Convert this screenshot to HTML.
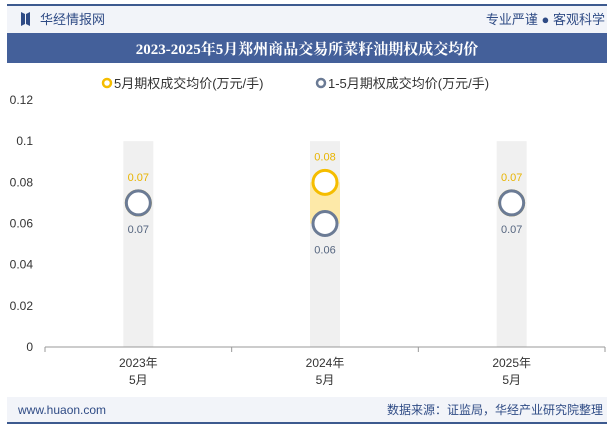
<!DOCTYPE html>
<html><head><meta charset="utf-8"><style>
body{margin:0;width:615px;height:427px;overflow:hidden;background:#fff;font-family:"Liberation Sans","Noto Sans CJK SC",sans-serif}
</style></head><body>
<svg width="615" height="427" xmlns="http://www.w3.org/2000/svg" style="font-family:'Liberation Sans','Noto Sans CJK SC',sans-serif">
<rect x="0" y="0" width="615" height="427" fill="#fff"/>
<rect x="7" y="4" width="600" height="2" fill="#3d5a8f"/>
<rect x="7" y="6" width="600" height="27" fill="#f2f4f9"/>
<path d="M21 12 L25 14 L25 24 L21 26 Z M26 14 L30 12 L30 26 L26 24Z" fill="#2f4b85"/>
<text x="40" y="24" font-size="13" fill="#2f4b85">华经情报网</text>
<text x="605" y="24" font-size="13" fill="#2f4b85" text-anchor="end">专业严谨 ● 客观科学</text>
<rect x="7" y="33" width="600" height="30" fill="#44609a"/>
<text x="307" y="54" font-size="15" font-weight="bold" fill="#fff" text-anchor="middle" font-family="'Liberation Serif','Noto Serif CJK SC',serif">2023-2025年5月郑州商品交易所菜籽油期权成交均价</text>
<g>
<circle cx="107" cy="83" r="4" fill="none" stroke="#f5bd00" stroke-width="2.5"/>
<text x="114" y="88" font-size="13" fill="#333">5月期权成交均价(万元/手)</text>
<circle cx="321" cy="83" r="4" fill="none" stroke="#6b7b95" stroke-width="2.5"/>
<text x="328" y="88" font-size="13" fill="#333">1-5月期权成交均价(万元/手)</text>
</g>
<g id="plot"></g>
<rect x="7" y="397" width="600" height="25" fill="#f2f4f9"/>
<rect x="7" y="422" width="600" height="2" fill="#3d5a8f"/>
<text x="18" y="414" font-size="12" fill="#2f4b85">www.huaon.com</text>
<text x="603" y="414" font-size="12" fill="#2f4b85" text-anchor="end">数据来源：证监局，华经产业研究院整理</text>
</svg>
<script>
const categories=["2023年|5月","2024年|5月","2025年|5月"];
const mayValues=[0.07,0.08,0.07];
const ytdValues=[0.07,0.06,0.07];
const yTicks=[0,0.02,0.04,0.06,0.08,0.1,0.12];
const yTickLabels=["0","0.02","0.04","0.06","0.08","0.1","0.12"];
const NS="http://www.w3.org/2000/svg";
const g=document.getElementById('plot');
const x0=45,x1=605,yb=347,yt=100,ymax=0.12;
const y=v=>yb-(v/ymax)*(yb-yt);
const bw=(x1-x0)/categories.length;
const xc=i=>x0+bw*(i+0.5);
function mk(t,a,txt){const e=document.createElementNS(NS,t);for(const k in a)e.setAttribute(k,a[k]);if(txt!=null)e.textContent=txt;g.appendChild(e);return e;}
yTicks.forEach((v,i)=>{
 const t=mk('text',{x:33,y:y(v)+4,'font-size':12,fill:'#333','text-anchor':'end'},yTickLabels[i]);
 
 
});
categories.forEach((c,i)=>{
 const bg=mk('rect',{x:xc(i)-15,y:y(0.1),width:30,height:yb-y(0.1),fill:'#f0f0f0'});
 
 
});
categories.forEach((c,i)=>{
 const a=mayValues[i],b=ytdValues[i];
 if(a!==b){const r=mk('rect',{x:xc(i)-15,y:y(Math.max(a,b)),width:30,height:Math.abs(y(a)-y(b)),fill:'#fde9a8'});
 
 }
});
const ax=mk('line',{x1:x0,x2:x1,y1:yb,y2:yb,stroke:'#999'});


for(let i=0;i<=categories.length;i++){const t=mk('line',{x1:x0+bw*i,x2:x0+bw*i,y1:yb,y2:yb+5,stroke:'#999'});
 
 }
categories.forEach((c,i)=>{
 const p=c.split('|');
 const t1=mk('text',{x:xc(i),y:367,'font-size':12,fill:'#333','text-anchor':'middle'},p[0]);
 
 
 const t2=mk('text',{x:xc(i),y:384,'font-size':12,fill:'#333','text-anchor':'middle'},p[1]);
 
 
});
categories.forEach((c,i)=>{
 const a=mayValues[i],b=ytdValues[i];
 const aTop=a>=b;
 const m=mk('circle',{cx:xc(i),cy:y(a),r:12,fill:'#fff',stroke:'#f5bd00','stroke-width':3});
 
 
 const n=mk('circle',{cx:xc(i),cy:y(b),r:12,fill:'#fff',stroke:'#6b7b95','stroke-width':3});
 
 
 const la=mk('text',{x:xc(i),y:aTop?y(a)-22:y(a)+30,'font-size':11,fill:'#e8b400','text-anchor':'middle'},a.toFixed(2));
 
 
 const lb=mk('text',{x:xc(i),y:aTop?y(b)+30:y(b)-22,'font-size':11,fill:'#55657f','text-anchor':'middle'},b.toFixed(2));
 
 
});
</script>
</body></html>
